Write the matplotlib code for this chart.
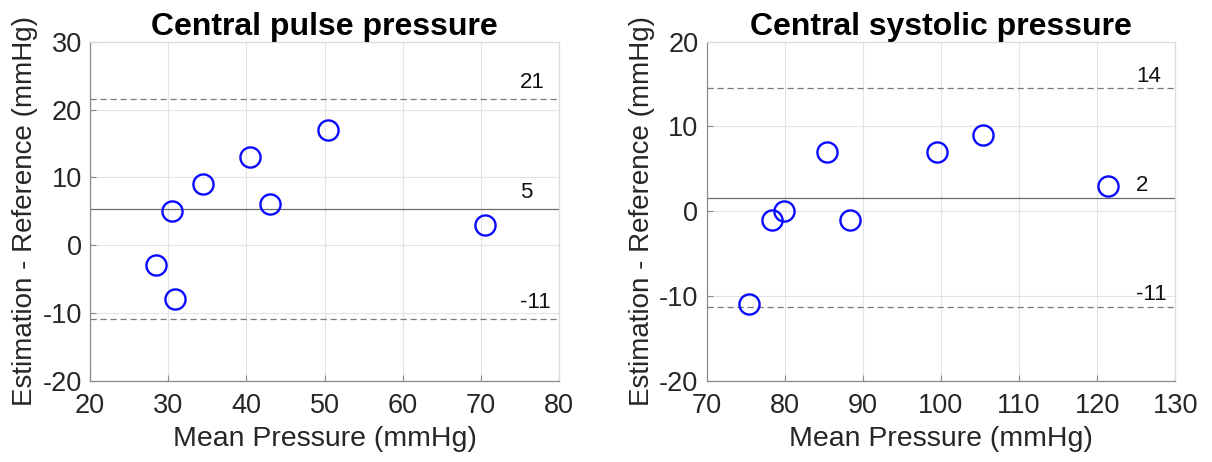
import matplotlib
matplotlib.use("Agg")
import matplotlib.pyplot as plt

plt.rcParams['font.family'] = ['Liberation Sans', 'DejaVu Sans']
plt.rcParams['axes.unicode_minus'] = False

# ---- data ----
titles = ["Central pulse pressure", "Central systolic pressure"]

pulse_mean = [28.4, 30.9, 30.5, 34.4, 40.5, 43.0, 50.5, 70.5]
pulse_diff = [-3, -8, 5, 9, 13, 6, 17, 3]
pulse_lines = [21.6, 5.3, -10.9]          # upper LoA, bias, lower LoA
pulse_line_labels = ["21", "5", "-11"]
pulse_xlim = [20, 80]
pulse_ylim = [-20, 30]
pulse_xticks = [20, 30, 40, 50, 60, 70, 80]
pulse_yticks = [-20, -10, 0, 10, 20, 30]

sys_mean = [75.4, 78.4, 79.9, 85.4, 88.4, 99.5, 105.4, 121.4]
sys_diff = [-11, -1, 0, 7, -1, 7, 9, 3]
sys_lines = [14.5, 1.6, -11.3]
sys_line_labels = ["14", "2", "-11"]
sys_xlim = [70, 130]
sys_ylim = [-20, 20]
sys_xticks = [70, 80, 90, 100, 110, 120, 130]
sys_yticks = [-20, -10, 0, 10, 20]

xlabel = "Mean Pressure (mmHg)"
ylabel = "Estimation - Reference (mmHg)"

# ---- figure ----
W, H = 1212, 462
fig = plt.figure(figsize=(W / 100, H / 100), dpi=100)

ax_pos = [
    [90 / W, 1 - 380.7 / H, 469 / W, 339 / H],
    [706.7 / W, 1 - 380.7 / H, 468.6 / W, 339 / H],
]

panels = [
    (pulse_mean, pulse_diff, pulse_lines, pulse_line_labels, pulse_xlim, pulse_ylim,
     pulse_xticks, pulse_yticks, 2.4),
    (sys_mean, sys_diff, sys_lines, sys_line_labels, sys_xlim, sys_ylim,
     sys_xticks, sys_yticks, 1.45),
]

tick_color = '#262626'
for i, (xm, yd, lines, labs, xl, yl, xt, yt, off) in enumerate(panels):
    ax = fig.add_axes(ax_pos[i])
    ax.set_xlim(xl)
    ax.set_ylim(yl)
    ax.set_xticks(xt)
    ax.set_yticks(yt)
    ax.grid(True, color='#e3e3e3', linewidth=0.8)
    ax.set_axisbelow(True)
    for s in ['left', 'bottom']:
        ax.spines[s].set_color('#8a8a8a')
        ax.spines[s].set_linewidth(0.9)
    for s in ['top', 'right']:
        ax.spines[s].set_color('#dcdcdc')
        ax.spines[s].set_linewidth(0.9)
    ax.tick_params(direction='in', length=4, width=0.8, color='#8a8a8a',
                   labelsize=19.5, labelcolor=tick_color)
    ax.tick_params(axis='x', pad=9)
    ax.tick_params(axis='y', pad=6)

    # limit-of-agreement lines
    ax.axhline(lines[0], color='#7a7a7a', linewidth=0.9, linestyle=(0, (5, 3)))
    ax.axhline(lines[1], color='#6a6a6a', linewidth=0.9, linestyle='-')
    ax.axhline(lines[2], color='#7a7a7a', linewidth=0.9, linestyle=(0, (5, 3)))

    ax.plot(xm, yd, linestyle='none', marker='o', markersize=14.5,
            markerfacecolor='none', markeredgecolor='#0a0aff', markeredgewidth=1.7)

    for v, lab in zip(lines, labs):
        ax.text(xl[1] - 5, v + off, lab, fontsize=16, ha='left', va='center',
                color='#111111')

    ax.set_title(titles[i], fontsize=23, fontweight='bold', pad=4, color='black')
    ax.set_xlabel(xlabel, fontsize=20.5, color=tick_color, labelpad=5)
    ax.set_ylabel(ylabel, fontsize=20, color=tick_color, labelpad=3)

fig.savefig("out.png", dpi=100)
